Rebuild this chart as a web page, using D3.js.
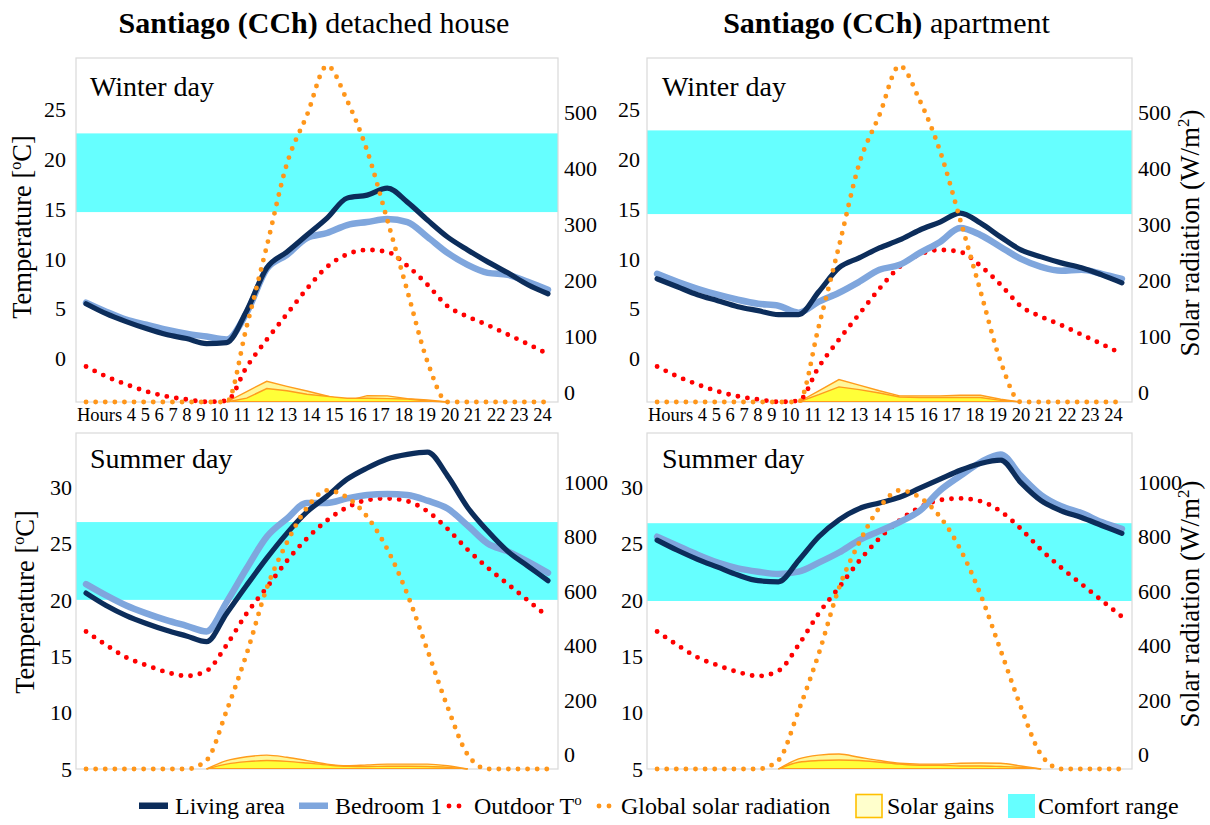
<!DOCTYPE html>
<html>
<head>
<meta charset="utf-8">
<script src="https://cdn.jsdelivr.net/npm/d3@7"></script>
<style>
  body { margin: 0; background: #ffffff; }
  svg { display: block; font-family: "Liberation Serif", "Times New Roman", serif; }
</style>
</head>
<body>
<svg id="chart" width="1210" height="825"></svg>
<script>
// ---- data -------------------------------------------------------------
const hours = d3.range(1, 25);
const hourLabels = ["Hours", "4", "5", "6", "7", "8", "9", "10", "11", "12", "13", "14",
  "15", "16", "17", "18", "19", "20", "21", "22", "23", "24"];

const tempTicksWinter = [0, 5, 10, 15, 20, 25];
const tempTicksSummer = [5, 10, 15, 20, 25, 30];
const radTicksWinter = [0, 100, 200, 300, 400, 500];
const radTicksSummer = [0, 200, 400, 600, 800, 1000];

// outdoor climate (same for both dwellings)
const outdoorWinter = [-0.8, -1.8, -2.6, -3.3, -3.8, -4.1, -4.35, -4.25, -0.85, 1.9, 4.45, 7.0,
  9.2, 10.45, 10.9, 10.7, 9.3, 7.4, 5.25, 4.2, 3.35, 2.4, 1.45, 0.45];
const outdoorSummer = [17.2, 16.0, 14.9, 14.2, 13.6, 13.25, 13.7, 16.0, 18.8, 21.1, 23.45, 25.45,
  27.05, 28.2, 28.85, 29.0, 28.75, 27.85, 26.3, 24.45, 22.85, 21.4, 19.95, 18.5];
const radiationWinter = [0, 0, 0, 0, 0, 0, 0, 0, 135, 278, 425, 512,
  600, 538, 448, 325, 198, 72, 0, 0, 0, 0, 0, 0];
const radiationSummer = [0, 0, 0, 0, 0, 0, 32, 214, 424, 665, 832, 960,
  1024, 998, 927, 808, 642, 436, 228, 53, 0, 0, 0, 0];

// detached house
const houseWinterLiving = [5.5, 4.5, 3.7, 3.0, 2.4, 2.0, 1.5, 1.6, 4.8, 9.1, 10.7, 12.4,
  14.1, 16.1, 16.4, 17.1, 15.7, 13.9, 12.2, 10.9, 9.7, 8.6, 7.4, 6.5];
const houseWinterBedroom = [5.6, 4.7, 3.9, 3.4, 2.9, 2.5, 2.2, 1.9, 4.6, 9.0, 10.4, 12.1,
  12.6, 13.4, 13.7, 14.0, 13.7, 12.2, 10.6, 9.4, 8.6, 8.4, 7.7, 6.9];
const houseSummerLiving = [20.6, 19.5, 18.6, 17.9, 17.3, 16.8, 16.3, 18.8, 21.3, 23.7, 25.9, 27.8,
  29.2, 30.7, 31.7, 32.5, 32.9, 33.1, 31.0, 28.2, 26.1, 24.3, 23.0, 21.7];
const houseSummerBedroom = [21.4, 20.4, 19.5, 18.8, 18.2, 17.7, 17.2, 19.8, 22.8, 25.6, 27.2, 28.6,
  28.6, 29.0, 29.3, 29.4, 29.3, 28.8, 28.1, 26.6, 25.0, 24.3, 23.4, 22.4];
const houseWinterGainsA = [0, 0, 0, 0, 0, 0, 0, 0, 18.6, 37, 28, 19.6, 10.7, 2, 11.4, 11, 6, 3.5, 0, 0, 0, 0, 0, 0];
const houseWinterGainsB = [0, 0, 0, 0, 0, 0, 0, 0, 7, 24, 20, 13.8, 10, 6.6, 6.6, 6, 5.3, 1.7, 0, 0, 0, 0, 0, 0];
const houseSummerGainsA = [0, 0, 0, 0, 0, 0, 0, 30.6, 45, 51, 43, 31, 18, 12, 15, 18, 18, 18, 12, 0, 0, 0, 0, 0];
const houseSummerGainsB = [0, 0, 0, 0, 0, 0, 0, 18, 27, 31, 28, 22, 15, 10, 9, 10, 10, 9, 6, 0, 0, 0, 0, 0];
const houseComfortWinter = [14.7, 22.6];
const houseComfortSummer = [20.0, 26.9];

// apartment
const aptWinterLiving = [8.0, 7.2, 6.4, 5.8, 5.2, 4.8, 4.4, 4.4, 6.7, 9.1, 10.1, 11.1,
  11.9, 12.9, 13.7, 14.6, 13.6, 12.2, 10.9, 10.2, 9.6, 9.1, 8.4, 7.6];
const aptWinterBedroom = [8.5, 7.7, 7.0, 6.4, 5.9, 5.5, 5.3, 4.6, 5.7, 6.6, 7.7, 8.9,
  9.4, 10.6, 11.7, 13.1, 12.4, 11.2, 10.0, 9.2, 8.8, 8.9, 8.5, 8.0];
const aptSummerLiving = [25.3, 24.4, 23.6, 22.9, 22.2, 21.7, 21.6, 23.5, 25.6, 27.1, 28.1, 28.6,
  29.1, 29.9, 30.7, 31.5, 32.1, 32.4, 30.4, 28.8, 27.9, 27.3, 26.6, 25.9];
const aptSummerBedroom = [25.6, 24.8, 24.0, 23.3, 22.8, 22.5, 22.3, 22.5, 23.3, 24.2, 25.3, 26.1,
  26.9, 27.9, 29.7, 31.0, 32.2, 32.9, 31.0, 29.3, 28.3, 27.7, 26.9, 26.3];
const aptWinterGainsA = [0, 0, 0, 0, 0, 0, 0, 0, 20, 40, 30, 20, 11, 11, 11, 12, 12, 5, 0, 0, 0, 0, 0, 0];
const aptWinterGainsB = [0, 0, 0, 0, 0, 0, 0, 0, 13, 27, 22, 16, 9, 8, 8, 8, 8, 3, 0, 0, 0, 0, 0, 0];
const aptSummerGainsA = [0, 0, 0, 0, 0, 0, 0, 37, 51, 55, 43, 31, 21, 18, 18, 21, 22, 21, 11, 0, 0, 0, 0, 0];
const aptSummerGainsB = [0, 0, 0, 0, 0, 0, 0, 25, 31, 33, 31, 25, 18, 14, 14, 11, 11, 9, 6, 0, 0, 0, 0, 0];
const aptComfortWinter = [14.5, 22.9];
const aptComfortSummer = [19.9, 26.8];

const legendLabels = ["Living area", "Bedroom 1", "Outdoor T", "Global solar radiation", "Solar gains", "Comfort range"];

// ---- styling & layout -----------------------------------------------------
const C = {
  living: "#0c2d5b",
  bedroom: "#7fa6dd",
  outdoor: "#ff0000",
  radiation: "#ff961a",
  comfort: "#66ffff",
  gainsPale: "#fff79a",
  gainsBright: "#ffff38",
  gainsEdge: "#ff9c1c",
  frame: "#d9d9d9"
};

const columns = [{ x0: 76, x1: 558 }, { x0: 647, x1: 1132 }];
const rowsBox = [{ y0: 58, y1: 402 }, { y0: 433, y1: 769 }];

const seasons = [
  { label: "Winter day", tempDomain: [-4.37, 30.17], radDomain: [0, 614],
    tempTicks: tempTicksWinter, radTicks: radTicksWinter, radLabelShift: -10,
    outdoor: outdoorWinter, radiation: radiationWinter, gainsCurve: d3.curveLinear },
  { label: "Summer day", tempDomain: [5, 34.8], radDomain: [0, 1235],
    tempTicks: tempTicksSummer, radTicks: radTicksSummer, radLabelShift: -14.7,
    outdoor: outdoorSummer, radiation: radiationSummer, gainsCurve: d3.curveMonotoneX }
];

const buildings = [
  { bold: "Santiago (CCh)", rest: " detached house",
    living: [houseWinterLiving, houseSummerLiving], bedroom: [houseWinterBedroom, houseSummerBedroom],
    gainsA: [houseWinterGainsA, houseSummerGainsA], gainsB: [houseWinterGainsB, houseSummerGainsB],
    comfort: [houseComfortWinter, houseComfortSummer] },
  { bold: "Santiago (CCh)", rest: " apartment",
    living: [aptWinterLiving, aptSummerLiving], bedroom: [aptWinterBedroom, aptSummerBedroom],
    gainsA: [aptWinterGainsA, aptSummerGainsA], gainsB: [aptWinterGainsB, aptSummerGainsB],
    comfort: [aptComfortWinter, aptComfortSummer] }
];

const svg = d3.select("#chart");
const dotDash = "0 9.6";
const dotWidth = 4.9;

// ---- panels -----------------------------------------------------------
buildings.forEach((b, bi) => {
  const col = columns[bi];

  // building title
  svg.append("text")
    .attr("x", (col.x0 + col.x1) / 2 - 3).attr("y", 33)
    .attr("text-anchor", "middle").attr("font-size", 30)
    .style("white-space", "pre")
    .call(t => {
      t.append("tspan").attr("font-weight", "bold").text(b.bold);
      t.append("tspan").text(b.rest);
    });

  seasons.forEach((s, si) => {
    const box = rowsBox[si];
    const g = svg.append("g");

    const x = d3.scalePoint().domain(hours).range([col.x0, col.x1]).padding(0.5);
    const yT = d3.scaleLinear().domain(s.tempDomain).range([box.y1, box.y0]);
    const yR = d3.scaleLinear().domain(s.radDomain).range([box.y1, box.y0]);

    const series = arr => hours.map((h, i) => ({ h, v: arr[i] }));

    // comfort band
    const cf = b.comfort[si];
    g.append("rect")
      .attr("x", col.x0).attr("width", col.x1 - col.x0)
      .attr("y", yT(cf[1])).attr("height", yT(cf[0]) - yT(cf[1]))
      .attr("fill", C.comfort);

    // plot frame
    g.append("rect")
      .attr("x", col.x0).attr("y", box.y0)
      .attr("width", col.x1 - col.x0).attr("height", box.y1 - box.y0)
      .attr("fill", "none").attr("stroke", C.frame).attr("stroke-width", 1.2);

    // solar gains (two overlapping areas)
    const gainsSpan = arr => {
      const d = series(arr);
      const first = d.findIndex(p => p.v > 0);
      let last = -1;
      d.forEach((p, i) => { if (p.v > 0) last = i; });
      return d.slice(Math.max(0, first - 1), Math.min(d.length, last + 2));
    };
    const area = d3.area().curve(s.gainsCurve)
      .x(p => x(p.h)).y0(yR(0)).y1(p => yR(p.v));
    const edge = d3.line().curve(s.gainsCurve)
      .x(p => x(p.h)).y(p => yR(p.v));
    [[b.gainsA[si], C.gainsPale], [b.gainsB[si], C.gainsBright]].forEach(([arr, fill]) => {
      const d = gainsSpan(arr);
      g.append("path").attr("d", area(d)).attr("fill", fill);
      g.append("path").attr("d", edge(d)).attr("fill", "none")
        .attr("stroke", C.gainsEdge).attr("stroke-width", 1.4);
    });
    const spanA = gainsSpan(b.gainsA[si]);
    g.append("line")
      .attr("x1", x(spanA[0].h)).attr("x2", x(spanA[spanA.length - 1].h))
      .attr("y1", yR(0) - 0.5).attr("y2", yR(0) - 0.5)
      .attr("stroke", C.gainsEdge).attr("stroke-width", 1.2);

    const tLine = d3.line().curve(d3.curveMonotoneX).x(p => x(p.h)).y(p => yT(p.v));
    const rLine = d3.line().curve(d3.curveMonotoneX).x(p => x(p.h)).y(p => yR(p.v));

    // outdoor temperature (dotted)
    g.append("path").attr("d", tLine(series(s.outdoor)))
      .attr("fill", "none").attr("stroke", C.outdoor).attr("stroke-width", dotWidth)
      .attr("stroke-linecap", "round").attr("stroke-dasharray", dotDash);

    // indoor temperatures
    g.append("path").attr("d", tLine(series(b.bedroom[si])))
      .attr("fill", "none").attr("stroke", C.bedroom).attr("stroke-width", 6.5)
      .attr("stroke-linecap", "round").attr("stroke-linejoin", "round");
    g.append("path").attr("d", tLine(series(b.living[si])))
      .attr("fill", "none").attr("stroke", C.living).attr("stroke-width", 5.2)
      .attr("stroke-linecap", "round").attr("stroke-linejoin", "round");

    // global solar radiation (dotted)
    g.append("path").attr("d", rLine(series(s.radiation)))
      .attr("fill", "none").attr("stroke", C.radiation).attr("stroke-width", dotWidth)
      .attr("stroke-linecap", "round").attr("stroke-dasharray", dotDash);

    // panel caption
    g.append("text")
      .attr("x", col.x0 + (bi === 0 ? 14 : 15)).attr("y", box.y0 + (si === 0 ? 38 : 35))
      .attr("font-size", 28).text(s.label);

    // left temperature ticks
    g.selectAll(".lt").data(s.tempTicks).join("text")
      .attr("x", col.x0 - (si === 0 ? (bi === 0 ? 10 : 7) : 4))
      .attr("y", v => yT(v)).attr("dy", "0.35em")
      .attr("text-anchor", "end").attr("font-size", 22).text(v => v);

    // right radiation ticks
    g.selectAll(".rt").data(s.radTicks).join("text")
      .attr("x", col.x1 + 6)
      .attr("y", v => yR(v) + s.radLabelShift).attr("dy", "0.35em")
      .attr("text-anchor", "start").attr("font-size", 22).text(v => v);

    // hour labels under the winter panels
    if (si === 0) {
      g.append("text")
        .attr("x", col.x0 + 1).attr("y", box.y1 + 19)
        .attr("font-size", 18.5).style("white-space", "pre")
        .selectAll("tspan").data(hourLabels).join("tspan")
        .text((d, i) => (i ? " " : "") + d);
    }

    // axis titles
    if (bi === 0) {
      g.append("text")
        .attr("transform", `translate(${si === 0 ? 31 : 34},${(box.y0 + box.y1) / 2 - 3 + (si === 0 ? 0 : 4)}) rotate(-90)`)
        .attr("text-anchor", "middle").attr("font-size", 26.5)
        .call(t => {
          t.append("tspan").text("Temperature [");
          t.append("tspan").attr("font-size", 16).attr("dy", -10).text("o");
          t.append("tspan").attr("dy", 10).text("C]");
        });
    } else {
      g.append("text")
        .attr("transform", `translate(1199,${(box.y0 + box.y1) / 2 + 3}) rotate(-90)`)
        .attr("text-anchor", "middle").attr("font-size", 27)
        .call(t => {
          t.append("tspan").text("Solar radiation (W/m");
          t.append("tspan").attr("font-size", 17).attr("dy", -10).text("2");
          t.append("tspan").attr("dy", 10).text(")");
        });
    }
  });
});

// ---- legend ---------------------------------------------------------------
const legendX = [139, 299, 446, 596, 856, 1008];
const legendTextGap = [36, 36, 28, 25, 31, 30];
const legendKind = ["living", "bedroom", "outdoor", "radiation", "gains", "comfort"];
const lg = svg.append("g");
const ly = 806, lBase = 814;

legendLabels.forEach((lab, i) => {
  const x0 = legendX[i];
  const kind = legendKind[i];
  if (kind === "living" || kind === "bedroom") {
    lg.append("rect").attr("x", x0).attr("y", ly - 3.5).attr("width", 29).attr("height", 6.5)
      .attr("fill", C[kind]);
  } else if (kind === "outdoor" || kind === "radiation") {
    lg.append("line").attr("x1", x0 + 3).attr("x2", x0 + 14).attr("y1", ly).attr("y2", ly)
      .attr("stroke", C[kind]).attr("stroke-width", dotWidth).attr("stroke-linecap", "round")
      .attr("stroke-dasharray", "0 10");
  } else if (kind === "gains") {
    lg.append("rect").attr("x", x0).attr("y", ly - 11.5).attr("width", 26).attr("height", 23)
      .attr("fill", "#ffffcc").attr("stroke", "#ffc000").attr("stroke-width", 1.6);
  } else {
    lg.append("rect").attr("x", x0).attr("y", ly - 12).attr("width", 27).attr("height", 24)
      .attr("fill", C.comfort);
  }
  const t = lg.append("text").attr("x", x0 + legendTextGap[i]).attr("y", lBase).attr("font-size", 24);
  if (kind === "outdoor") {
    t.append("tspan").text(lab);
    t.append("tspan").attr("font-size", 15).attr("dy", -9).text("o");
  } else {
    t.text(lab);
  }
});
</script>
</body>
</html>
